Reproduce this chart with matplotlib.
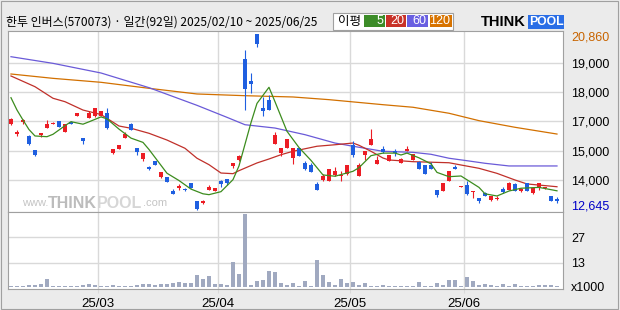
import matplotlib
matplotlib.use("Agg")
import matplotlib.pyplot as plt
from matplotlib.patches import Rectangle

# daily candles (KRW), 2025/02/10 .. 2025/06/25, 92 trading days
opens = [16644, 16192, 16766, 16113, 15445, 16146, 16486, 16644, 16798, 16299,
         16766, 17046, 15991, 16924, 17012, 17012, 17158, 15291, 15492, 15991,
         16644, 15552, 15025, 14651, 14932, 14200, 14170, 13545, 13657, 13601,
         13890, 13064, 12972, 13592, 13545, 14012, 14091, 14712, 14992, 19693,
         18680, 20860, 17406, 17793, 15739, 15305, 15538, 15072, 15538, 14838,
         14759, 13872, 14031, 14012, 14293, 14246, 14339, 15692, 14217, 15226,
         15692, 14805, 15492, 14945, 15412, 14852, 15398, 14978, 14871, 14745,
         14745, 13578, 13545, 13998, 14637, 13732, 13811, 13485, 13190, 13424,
         13111, 13172, 13625, 13578, 13858, 13531, 13890, 13424, 13685, 13685,
         13298, 13158]
highs = [16924, 16379, 16892, 16146, 15445, 16253, 16845, 16752, 16798, 16660,
         16780, 17180, 15991, 17265, 17400, 17270, 17391, 15500, 15690, 16299,
         16691, 15552, 15300, 14712, 14940, 14440, 14170, 13611, 13844, 13648,
         13890, 13070, 13125, 13797, 13680, 14059, 14091, 14840, 15212, 20113,
         19039, 20860, 17905, 18026, 16271, 15545, 15965, 15545, 15545, 14945,
         14838, 13937, 14326, 14565, 14637, 14479, 14740, 15851, 14838, 15390,
         16425, 15150, 15632, 15220, 15492, 15086, 15632, 15265, 14945, 14750,
         14871, 13578, 13925, 14470, 14745, 13785, 13998, 13535, 13190, 13499,
         13315, 13298, 13704, 13965, 13919, 13657, 13890, 13660, 13895, 13735,
         13298, 13236]
lows = [16635, 16113, 16644, 15678, 15165, 16066, 16486, 16644, 16533, 16299,
        16644, 17040, 15711, 16924, 17000, 17012, 16411, 15244, 15480, 15991,
        16379, 15212, 14945, 14497, 14745, 14124, 13965, 13405, 13578, 13531,
        13657, 12645, 12925, 13592, 13540, 13704, 13797, 14605, 14945, 17326,
        18106, 20253, 17018, 17320, 15739, 15150, 15538, 14805, 15150, 14497,
        14418, 13592, 13984, 13984, 14246, 14012, 14293, 15104, 14210, 14992,
        15692, 14805, 15291, 14940, 15165, 14852, 15398, 14978, 14558, 14324,
        14558, 13265, 13545, 13998, 14558, 13730, 13344, 13190, 12985, 13298,
        13064, 13111, 13424, 13578, 13545, 13499, 13531, 13391, 13578, 13611,
        13064, 12985]
closes = [16878, 16272, 16831, 15711, 15212, 16225, 16659, 16719, 16533, 16644,
          16644, 17172, 15879, 17158, 17391, 17265, 16458, 15492, 15678, 16192,
          16379, 15366, 15291, 14581, 14745, 14433, 13965, 13405, 13765, 13578,
          13657, 12691, 13078, 13704, 13671, 13858, 13905, 14838, 15179, 18292,
          18540, 20407, 17251, 17326, 16131, 15538, 15959, 15538, 15150, 14572,
          14418, 13592, 14246, 14558, 14452, 14293, 14731, 15226, 14759, 15384,
          15959, 14992, 15337, 15212, 15291, 15011, 15492, 15258, 14558, 14324,
          14558, 13344, 13919, 14465, 14558, 13779, 13391, 13531, 13064, 13298,
          13312, 13218, 13470, 13919, 13545, 13625, 13531, 13657, 13890, 13732,
          13064, 13064]
# volume, thousands of shares
volumes = [0.4, 0.4, 0.4, 0.9, 0.9, 1.5, 4.2, 0.4, 0.4, 0.4,
           0.4, 0.4, 0.9, 1.5, 0.9, 0.4, 0.4, 0.9, 0.4, 0.4,
           0.4, 0.9, 1.5, 1.5, 0.9, 1.5, 1.5, 2.2, 2.7, 2.0,
           2.2, 6.4, 4.2, 5.8, 1.5, 1.5, 0.9, 13.3, 6.9, 39.7,
           0.9, 3.1, 3.6, 8.6, 8.0, 2.0, 0.9, 2.0, 0.4, 3.1,
           0.4, 14.6, 6.4, 2.6, 0.9, 4.2, 2.0, 2.6, 0.9, 2.0,
           0.4, 0.4, 0.9, 0.4, 0.4, 0.4, 0.4, 0.4, 2.6, 0.4,
           0.4, 2.0, 0.9, 3.6, 3.6, 0.4, 5.3, 3.1, 0.9, 1.5,
           0.9, 0.4, 1.5, 0.4, 1.5, 0.4, 0.4, 0.4, 0.9, 0.9,
           0.9, 0.4]

# moving averages (day index, value)
ma5_x = [0, 1, 2, 3, 4, 6, 7, 9, 10, 12, 13, 15, 16, 18, 20, 22, 23, 26, 28, 30,
         32, 33, 35, 37, 38, 40, 41, 43, 44, 46, 48, 50, 52, 54, 57, 58, 60, 62,
         64, 65, 66, 68, 70, 71, 73, 75, 78, 79, 81, 83, 85, 88, 91]
ma5 = [17886, 17312, 16845, 16400, 16100, 16066, 16178, 16580, 16766, 16650,
       16760, 16990, 16900, 16420, 16000, 15800, 15470, 14360, 14020, 13620,
       13400, 13360, 13500, 14060, 14700, 16720, 17620, 18372, 17700, 16318,
       15560, 14960, 14280, 14220, 14450, 14620, 15180, 15300, 15300, 15212,
       15300, 15080, 14800, 14400, 14199, 14232, 13700, 13400, 13298, 13530,
       13660, 13700, 13540]
ma20_x = [0, 4, 7, 9, 12, 15, 18, 20, 23, 26, 29, 31, 33, 35, 37, 38, 41, 43, 45,
          47, 51, 54, 57, 58, 60, 62, 63, 67, 73, 75, 78, 81, 84, 86, 91]
ma20 = [18900, 18400, 17860, 17700, 17310, 17100, 16565, 16460, 16225, 15910,
        15525, 15060, 14760, 14370, 14340, 14480, 14840, 15025, 15225, 15385,
        15620, 15690, 15770, 15665, 15385, 15070, 14980, 14900, 14850, 14745,
        14590, 14355, 14045, 13860, 13730]
ma60_x = [0, 7, 15, 23, 31, 36, 39, 44, 49, 54, 57, 62, 67, 70, 73, 76, 79, 83, 91]
ma60 = [19800, 19490, 19040, 18355, 17530, 16970, 16625, 16470, 16160, 15770,
        15620, 15385, 15335, 15245, 15060, 14945, 14825, 14700, 14700]
ma120_x = [0, 7, 15, 23, 31, 39, 47, 53, 62, 67, 73, 78, 84, 91]
ma120 = [18993, 18790, 18605, 18325, 18060, 17980, 17920, 17795, 17560, 17440,
         17160, 16815, 16505, 16190]

month_starts = [15, 35, 57, 76]
month_labels = ["25/03", "25/04", "25/05", "25/06"]
price_grid = [19506, 18152, 16799, 15398, 14045]
price_grid_labels = ["19,000", "18,000", "17,000", "15,000", "14,000"]
vol_ticks = [0, 13, 27]
vol_tick_labels = ["x1000", "13", "27"]

title = "한투 인버스(570073) · 일간(92일) 2025/02/10 ~ 2025/06/25"

UP = "#ec1c24"
DOWN = "#1f5fe0"
GRID = "#d9d9d9"
EDGE = "#a0a0a0"
W, H = 620, 310


def fx(px):
    return px / W


def fy(py):
    return 1 - py / H


plt.rcParams["font.family"] = ["Liberation Sans", "DejaVu Sans"]
fig = plt.figure(figsize=(6.2, 3.1), dpi=100)
fig.patch.set_facecolor("#ebebeb")

ax = fig.add_axes([fx(7.5), fy(211.5), 555 / W, 180.5 / H])
axv = fig.add_axes([fx(7.5), fy(288.5), 555 / W, 77 / H], sharex=ax)

n = len(closes)
xs = list(range(n))

# candles
for i in xs:
    o, h, l, c = opens[i], highs[i], lows[i], closes[i]
    col = UP if c >= o else DOWN
    ax.vlines(i, l, h, color=col, lw=0.8, zorder=3)
    lo, hi = min(o, c), max(o, c)
    if hi - lo < 50:
        mid = (hi + lo) / 2
        lo, hi = mid - 25, mid + 25
    ax.bar(i, hi - lo, bottom=lo, width=0.82, color=col, lw=0, zorder=4)

ax.plot(ma120_x, ma120, color="#d27000", lw=0.9, zorder=2)
ax.plot(ma60_x, ma60, color="#6a5ad8", lw=0.9, zorder=2)
ax.plot(ma20_x, ma20, color="#c0302a", lw=0.9, zorder=2)
ax.plot(ma5_x, ma5, color="#3c8c1e", lw=0.9, zorder=5)

ax.set_xlim(-0.58, 91.92)
ax.set_ylim(12574, 21000)
ax.set_facecolor("white")
for g in price_grid:
    ax.axhline(g, color=GRID, lw=1.0, zorder=1)
for m in month_starts:
    ax.axvline(m - 0.5, color=GRID, lw=1.0, zorder=1)
ax.yaxis.tick_right()
ax.set_yticks(price_grid)
ax.set_yticklabels(price_grid_labels)
ax.tick_params(axis="y", length=0, pad=6, labelsize=9)
ax.tick_params(axis="x", length=0, labelbottom=False)

ax.annotate(f"{max(highs):,}", xy=(1, max(highs)), xycoords=("axes fraction", "data"),
            xytext=(6, -2.5), textcoords="offset points", va="center", ha="left",
            fontsize=9, color="#c86400", annotation_clip=False)
ax.annotate(f"{min(lows):,}", xy=(1, min(lows)), xycoords=("axes fraction", "data"),
            xytext=(6, 2.5), textcoords="offset points", va="center", ha="left",
            fontsize=9, color="#0000c8", annotation_clip=False)

# volume
axv.bar(xs, volumes, width=0.82, color="#a0a9c0", lw=0, zorder=3)
axv.set_ylim(-1.0, 41.1)
axv.set_facecolor("white")
for g in vol_ticks[1:]:
    axv.axhline(g, color=GRID, lw=1.0, zorder=1)
for m in month_starts:
    axv.axvline(m - 0.5, color=GRID, lw=1.0, zorder=1)
axv.yaxis.tick_right()
axv.set_yticks(vol_ticks)
axv.set_yticklabels(vol_tick_labels)
axv.tick_params(axis="y", length=0, pad=6, labelsize=9)
axv.set_xticks([m - 0.5 for m in month_starts])
axv.set_xticklabels(month_labels)
axv.tick_params(axis="x", length=3, color=GRID, pad=4, labelsize=9.5)

for a in (ax, axv):
    for s in a.spines.values():
        s.set_color(EDGE)
        s.set_linewidth(0.8)

renderer = fig.canvas.get_renderer()


def text_row(x0, y, parts):
    # lay texts side by side, starting at pixel x0
    x = x0
    for s, kw in parts:
        t = fig.text(fx(x), fy(y), s, va="center", ha="left", **kw)
        x += t.get_window_extent(renderer).width
    return x


# title and legend
fig.text(fx(6), fy(22), title, fontsize=8.6, va="center", ha="left",
         family=["Noto Sans CJK KR", "DejaVu Sans"])
fig.patches.append(Rectangle((fx(333), fy(29.5)), 120 / W, 17 / H, transform=fig.transFigure,
                             facecolor="white", edgecolor=EDGE, lw=0.8))
fig.text(fx(338), fy(21.5), "이평", fontsize=9, va="center", ha="left",
         family=["Noto Sans CJK KR", "DejaVu Sans"])
legend_items = [("5", "#3c8c28", 364, 385), ("20", "#c83228", 386, 406),
                ("60", "#695fe1", 407, 428), ("120", "#d77300", 430, 452)]
for lab, col, x0, x1 in legend_items:
    fig.patches.append(Rectangle((fx(x0), fy(27.3)), (x1 - x0) / W, 12.3 / H,
                                 transform=fig.transFigure, facecolor=col, lw=0))
    fig.text(fx(x1 - 1.5), fy(21.5), lab, fontsize=9, color="white", va="center", ha="right")

# logo
fig.text(fx(481), fy(22), "THINK", fontsize=10.5, fontweight="bold", va="center", ha="left")
fig.patches.append(Rectangle((fx(528), fy(28.5)), 36 / W, 13.5 / H, transform=fig.transFigure,
                             facecolor="#2a6ee6", lw=0))
fig.text(fx(546), fy(22), "POOL", fontsize=8.8, fontweight="bold", color="white",
         va="center", ha="center")

# watermark
text_row(22, 203, [("www.", dict(fontsize=8, color="#c4c4c4")),
                   ("THINK", dict(fontsize=11.5, fontweight="bold", color="#bcbcbc")),
                   ("POOL", dict(fontsize=11.5, fontweight="bold", color="#d6d6d6")),
                   (".com", dict(fontsize=8, color="#c4c4c4"))])

fig.patches.append(Rectangle((fx(1), fy(308.5)), 617 / W, 307.5 / H, transform=fig.transFigure,
                             facecolor="none", edgecolor=EDGE, lw=0.8))

fig.savefig("out.png", dpi=100, facecolor=fig.get_facecolor())
